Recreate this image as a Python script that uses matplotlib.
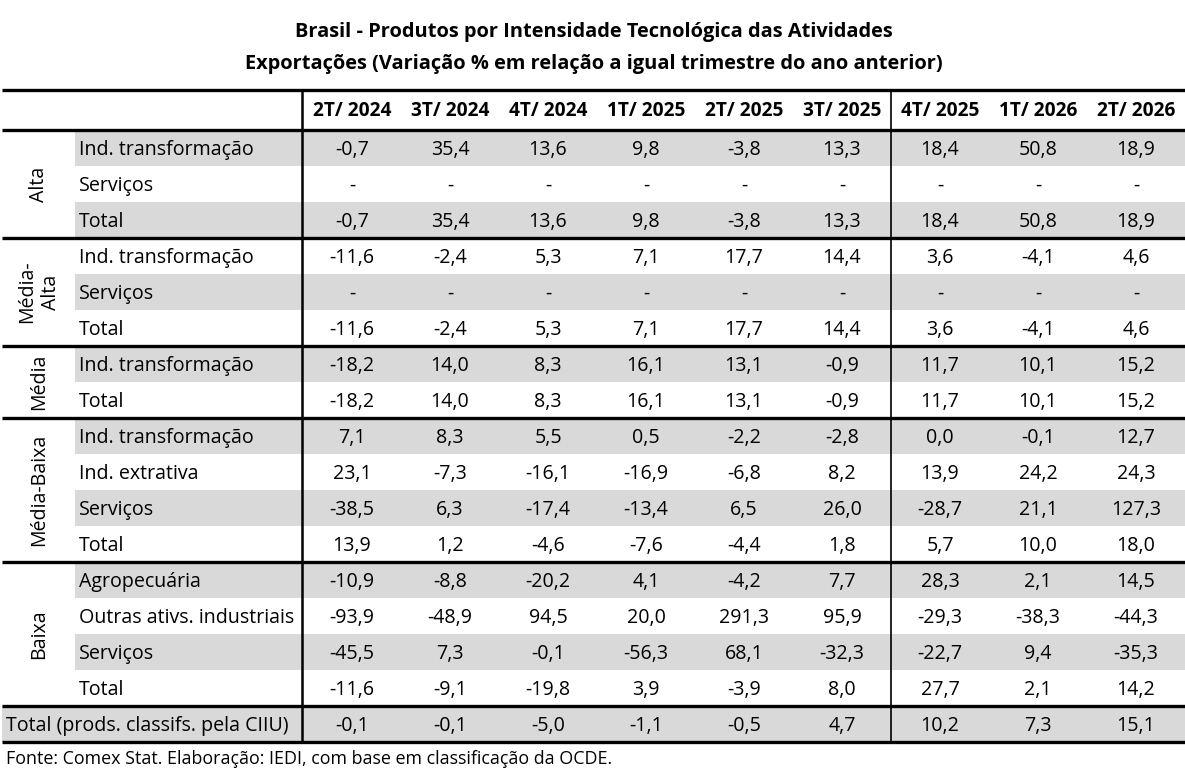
import matplotlib
matplotlib.use("Agg")
import matplotlib.pyplot as plt
from matplotlib.patches import Rectangle

plt.rcParams['font.family'] = ['Open Sans', 'DejaVu Sans']

title_lines = ["Brasil - Produtos por Intensidade Tecnológica das Atividades",
               "Exportações (Variação % em relação a igual trimestre do ano anterior)"]
columns = ["2T/ 2024", "3T/ 2024", "4T/ 2024", "1T/ 2025", "2T/ 2025",
           "3T/ 2025", "4T/ 2025", "1T/ 2026", "2T/ 2026"]
footer = "Fonte: Comex Stat. Elaboração: IEDI, com base em classificação da OCDE."

NA = [None] * 9
alta_ind = [-0.7, 35.4, 13.6, 9.8, -3.8, 13.3, 18.4, 50.8, 18.9]
alta_total = [-0.7, 35.4, 13.6, 9.8, -3.8, 13.3, 18.4, 50.8, 18.9]
medalta_ind = [-11.6, -2.4, 5.3, 7.1, 17.7, 14.4, 3.6, -4.1, 4.6]
medalta_total = [-11.6, -2.4, 5.3, 7.1, 17.7, 14.4, 3.6, -4.1, 4.6]
media_ind = [-18.2, 14.0, 8.3, 16.1, 13.1, -0.9, 11.7, 10.1, 15.2]
media_total = [-18.2, 14.0, 8.3, 16.1, 13.1, -0.9, 11.7, 10.1, 15.2]
medbaixa_ind = [7.1, 8.3, 5.5, 0.5, -2.2, -2.8, 0.0, -0.1, 12.7]
medbaixa_extr = [23.1, -7.3, -16.1, -16.9, -6.8, 8.2, 13.9, 24.2, 24.3]
medbaixa_serv = [-38.5, 6.3, -17.4, -13.4, 6.5, 26.0, -28.7, 21.1, 127.3]
medbaixa_total = [13.9, 1.2, -4.6, -7.6, -4.4, 1.8, 5.7, 10.0, 18.0]
baixa_agro = [-10.9, -8.8, -20.2, 4.1, -4.2, 7.7, 28.3, 2.1, 14.5]
baixa_outras = [-93.9, -48.9, 94.5, 20.0, 291.3, 95.9, -29.3, -38.3, -44.3]
baixa_serv = [-45.5, 7.3, -0.1, -56.3, 68.1, -32.3, -22.7, 9.4, -35.3]
baixa_total = [-11.6, -9.1, -19.8, 3.9, -3.9, 8.0, 27.7, 2.1, 14.2]
grand_total_label = "Total (prods. classifs. pela CIIU)"
grand_total = [-0.1, -0.1, -5.0, -1.1, -0.5, 4.7, 10.2, 7.3, 15.1]

groups = [
    ("Alta", [("Ind. transformação", alta_ind), ("Serviços", NA), ("Total", alta_total)]),
    ("Média-\nAlta", [("Ind. transformação", medalta_ind), ("Serviços", NA), ("Total", medalta_total)]),
    ("Média", [("Ind. transformação", media_ind), ("Total", media_total)]),
    ("Média-Baixa", [("Ind. transformação", medbaixa_ind), ("Ind. extrativa", medbaixa_extr),
                     ("Serviços", medbaixa_serv), ("Total", medbaixa_total)]),
    ("Baixa", [("Agropecuária", baixa_agro), ("Outras ativs. industriais", baixa_outras),
               ("Serviços", baixa_serv), ("Total", baixa_total)]),
]

def fmt(v):
    if v is None:
        return "-"
    return f"{v:.1f}".replace(".", ",")

# layout (pixel units)
W, H = 1185, 772
x_left, x_sub, x_data, x_right = 2, 75, 302, 1185
col_w = 98.0
first_center = 352
top_line, header_bottom = 90, 130
row_h = 36
gray = "#D9D9D9"
fs = 14.1
dy = 2.0
lw_thick = 2.4

fig = plt.figure(figsize=(W / 100, H / 100), dpi=100)
ax = fig.add_axes([0, 0, 1, 1])
ax.set_xlim(0, W)
ax.set_ylim(H, 0)
ax.axis("off")

# title
ax.text(W / 2 + 1, 32, title_lines[0], ha="center", va="center", fontsize=14.4, fontweight="bold")
ax.text(W / 2 + 1, 64, title_lines[1], ha="center", va="center", fontsize=14.4, fontweight="bold")

# header
hy = (top_line + header_bottom) / 2
for j, c in enumerate(columns):
    ax.text(first_center + j * col_w, hy + 1.5, c, ha="center", va="center", fontsize=13.8, fontweight="bold")

y = header_bottom
row_idx = 0
sep_lines = [top_line, header_bottom]
for gname, rows in groups:
    gy0 = y
    for label, vals in rows:
        if row_idx % 2 == 0:
            ax.add_patch(Rectangle((x_sub, y), x_right - x_sub, row_h, color=gray, lw=0, zorder=0))
        cy = y + row_h / 2 + dy
        ax.text(x_sub + 4, cy, label, ha="left", va="center", fontsize=fs)
        for j, v in enumerate(vals):
            ax.text(first_center + j * col_w, cy, fmt(v), ha="center", va="center", fontsize=fs)
        y += row_h
        row_idx += 1
    ax.text(39, (gy0 + y) / 2, gname, ha="center", va="center", rotation=90, fontsize=fs,
            linespacing=1.3)
    sep_lines.append(y)

# grand total
ax.add_patch(Rectangle((x_left, y), x_right - x_left, row_h, color=gray, lw=0, zorder=0))
cy = y + row_h / 2 + dy
ax.text(x_left + 4, cy, grand_total_label, ha="left", va="center", fontsize=fs)
for j, v in enumerate(grand_total):
    ax.text(first_center + j * col_w, cy, fmt(v), ha="center", va="center", fontsize=fs)
y += row_h
sep_lines.append(y)

for ly in sep_lines:
    ax.plot([x_left, x_right], [ly, ly], color="black", lw=lw_thick, solid_capstyle="butt", zorder=3)

# vertical lines
ax.plot([x_data, x_data], [top_line, y], color="black", lw=1.8, zorder=3)
xv = first_center + 5.5 * col_w
ax.plot([xv, xv], [top_line, y], color="black", lw=1.2, zorder=3)

ax.text(6, y + 17, footer, ha="left", va="center", fontsize=12.9)

fig.savefig("out.png", dpi=100)
